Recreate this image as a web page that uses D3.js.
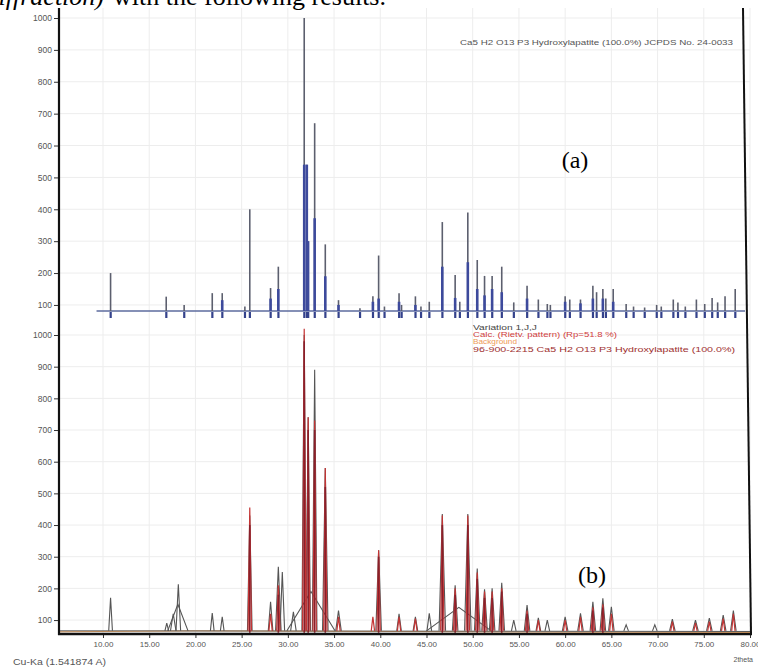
<!DOCTYPE html>
<html><head><meta charset="utf-8">
<script src="https://cdn.jsdelivr.net/npm/d3@7"></script>
<style>body{margin:0;background:#fff}svg{display:block}</style>
</head><body>
<svg id="c" width="758" height="671"></svg>
<script>
// ---------- data ----------
const xTicks = [10,15,20,25,30,35,40,45,50,55,60,65,70,75,80];
const yTicks = [100,200,300,400,500,600,700,800,900,1000];

// (a) reference pattern, JCPDS 24-0033 (stick intensities on panel scale)
const refPos  = [10.82,16.84,18.78,21.82,22.90,25.35,25.88,28.13,28.97,31.77,32.05,32.19,32.90,34.05,35.48,37.80,39.20,39.82,40.45,42.03,42.30,43.80,44.40,45.30,46.71,48.10,48.60,49.47,50.49,51.28,52.10,53.14,54.44,55.88,57.10,58.07,58.40,60.00,60.50,61.66,63.00,63.40,64.08,64.40,65.20,66.60,67.40,68.60,69.90,70.40,71.70,72.20,73.00,74.20,75.10,75.90,76.50,77.30,78.40];
const refInt  = [200,126,100,137,137,95,400,153,220,1000,540,300,670,290,115,90,127,255,95,137,100,127,95,110,360,194,110,390,241,191,191,220,108,160,117,103,100,127,117,117,160,140,150,120,150,103,95,92,100,95,117,108,95,117,103,122,108,127,150];
const refBlue = [0,0,0,0,115,0,0,120,150,540,540,300,372,190,100,0,110,120,0,110,0,100,0,0,220,122,0,234,150,130,150,140,0,120,0,0,0,110,0,105,120,0,120,0,110,0,0,0,0,0,0,0,0,0,0,0,0,0,0];

// (b) observed pattern peaks: position (2theta), counts, half base width (deg)
const obsPos   = [10.82,16.90,17.60,18.10,18.15,21.82,22.90,25.88,28.13,28.97,29.40,30.60,31.77,32.20,32.50,32.90,34.05,35.48,39.82,42.03,43.80,45.30,46.71,48.10,48.50,49.47,50.49,51.28,52.10,53.14,54.44,55.88,57.10,58.07,60.00,61.66,63.00,64.08,65.00,66.60,69.70,71.60,74.10,75.60,77.10,78.20];
const obsInt   = [170,90,120,150,213,122,110,430,158,268,252,126,1000,740,190,890,580,130,320,120,110,121,435,210,140,435,263,197,200,218,100,147,107,100,110,121,158,169,142,85,85,103,100,106,116,130];
const obsWidth = [0.20,0.20,0.30,1.10,0.25,0.20,0.20,0.25,0.25,0.30,0.25,0.30,0.25,0.25,2.60,0.25,0.30,0.30,0.30,0.25,0.25,0.25,0.35,0.30,3.50,0.35,0.30,0.30,0.30,0.30,0.25,0.30,0.25,0.25,0.30,0.30,0.30,0.30,0.30,0.25,0.25,0.30,0.30,0.30,0.30,0.30];

// (b) calculated (Rietveld) pattern peaks
const calcPos = [25.88,28.13,28.97,31.77,32.20,32.90,34.05,35.48,39.20,39.82,42.03,43.80,46.71,48.10,49.47,50.49,51.28,52.10,53.14,55.88,57.10,60.00,61.66,63.00,64.08,65.00,71.60,74.10,75.60,77.10,78.20];
const calcInt = [455,120,210,1020,740,730,580,110,110,320,110,105,430,200,430,250,190,190,200,130,100,100,110,140,150,120,95,90,95,105,120];

// (b) reference sticks 96-900-2215
const stickPos = [25.88,28.97,31.77,32.20,32.90,34.05,39.82,46.71,48.10,49.47,50.49,51.28,52.10,53.14,55.88,63.00,64.08];
const stickInt = [400,180,980,700,700,520,300,400,180,400,230,170,170,190,120,130,140];

// (b) background
const bgPos = [5.3,20,40,60,80];
const bgInt = [63,66,64,62,61];

const legendLines = ["Variation 1,J,J","Calc. (Rietv. pattern) (Rp=51.8 %)","Background","96-900-2215 Ca5 H2 O13 P3 Hydroxylapatite (100.0%)"];

// ---------- drawing ----------
const svg = d3.select("#c");
const FONT = "Liberation Sans, Arial, sans-serif";

const x = d3.scaleLinear().domain([5.24, 80]).range([59, 750]);
const yTop = d3.scaleLinear().domain([81, 1000]).range([311, 18]);
const yBot = d3.scaleLinear().domain([56, 1000]).range([634, 335]);

// cropped text line above the figure
svg.append("text").attr("x", 104).attr("y", 4.5).attr("text-anchor","end")
  .attr("font-family","Liberation Serif, Times New Roman, serif").attr("font-size",26)
  .attr("font-style","italic").text("(X-Ray Diffraction)");
svg.append("text").attr("x", 113).attr("y", 4.5)
  .attr("font-family","Liberation Serif, Times New Roman, serif").attr("font-size",26)
  .text("with the following results.");

// grid
const grid = svg.append("g").attr("stroke","#ededed").attr("stroke-width",1);
xTicks.forEach(t => grid.append("line").attr("x1",x(t)).attr("x2",x(t)).attr("y1",8).attr("y2",634));
yTicks.forEach(t => {
  grid.append("line").attr("x1",59).attr("x2",750).attr("y1",yTop(t)).attr("y2",yTop(t));
  grid.append("line").attr("x1",59).attr("x2",750).attr("y1",yBot(t)).attr("y2",yBot(t));
});

// ----- top panel (a) -----
const topG = svg.append("g");
topG.append("line").attr("x1",x(9.3)).attr("x2",745).attr("y1",yTop(81)).attr("y2",yTop(81))
  .attr("stroke","#5d6b9e").attr("stroke-width",1.3);
topG.selectAll(".mk").data(refPos).join("rect")
  .attr("x", d => x(d)-1).attr("y", yTop(81)+1).attr("width",2.2).attr("height",6)
  .attr("fill","#34428c");
topG.selectAll(".st").data(refPos).join("line")
  .attr("x1", d => x(d)).attr("x2", d => x(d))
  .attr("y1", yTop(81)).attr("y2", (d,i) => yTop(refInt[i]))
  .attr("stroke","#5c5f6e").attr("stroke-width",1.6);
topG.selectAll(".bl").data(refPos.filter((d,i)=>refBlue[i]>0)).join("line")
  .attr("x1", d => x(d)).attr("x2", d => x(d))
  .attr("y1", yTop(81)).attr("y2", d => yTop(refBlue[refPos.indexOf(d)]))
  .attr("stroke","#3d4a9c").attr("stroke-width",2.6);

svg.append("text").attr("x",460).attr("y",44.5).attr("font-family",FONT).attr("font-size",7.5)
  .attr("fill","#555").attr("textLength",273).attr("lengthAdjust","spacingAndGlyphs")
  .text("Ca5 H2 O13 P3 Hydroxylapatite (100.0%) JCPDS No. 24-0033");

// ----- lower panel (b) -----
const botG = svg.append("g");
const lineGen = d3.line().x(d => x(d[0])).y(d => yBot(d[1]));
botG.append("path").attr("d", lineGen(bgPos.map((p,i)=>[p,bgInt[i]])))
  .attr("fill","none").attr("stroke","#f0a45a").attr("stroke-width",1);
botG.append("path").attr("d", lineGen([[5.3,66],[80,64]]))
  .attr("fill","none").attr("stroke","#555").attr("stroke-width",1);
botG.selectAll(".ob").data(obsPos).join("path")
  .attr("d", (p,i) => lineGen([[p-obsWidth[i],66],[p,obsInt[i]],[p+obsWidth[i],66]]))
  .attr("fill","none").attr("stroke","#555").attr("stroke-width",1.1);
botG.selectAll(".ca").data(calcPos).join("path")
  .attr("d", (p,i) => lineGen([[p-0.18,66],[p,calcInt[i]],[p+0.18,66]]))
  .attr("fill","none").attr("stroke","#c43434").attr("stroke-width",1.2);
botG.selectAll(".rs").data(stickPos).join("line")
  .attr("x1", d => x(d)).attr("x2", d => x(d))
  .attr("y1", yBot(60)).attr("y2", (d,i) => yBot(stickInt[i]))
  .attr("stroke","#8a1f2a").attr("stroke-width",1.6);

const legColors = ["#444","#d04040","#ee9a55","#a03030"];
const legWidths = [64,144,44,262];
legendLines.forEach((t,i) => {
  svg.append("text").attr("x",473).attr("y",329.5 + i*7.4).attr("font-family",FONT)
    .attr("font-size",6.5).attr("fill",legColors[i])
    .attr("textLength",legWidths[i]).attr("lengthAdjust","spacingAndGlyphs").text(t);
});

// panel labels
svg.append("text").attr("x",575).attr("y",168).attr("text-anchor","middle")
  .attr("font-family","Liberation Serif, Times New Roman, serif").attr("font-size",24).text("(a)");
svg.append("text").attr("x",592).attr("y",583).attr("text-anchor","middle")
  .attr("font-family","Liberation Serif, Times New Roman, serif").attr("font-size",24).text("(b)");

// ----- axes -----
function styleAxis(g){
  g.select(".domain").remove();
  g.selectAll(".tick line").attr("stroke","#333");
  g.selectAll(".tick text").attr("fill","#555").attr("font-family",FONT);
}
svg.append("g").attr("transform","translate(59,0)")
  .call(d3.axisLeft(yTop).tickValues(yTicks).tickSize(5).tickPadding(2).tickFormat(d3.format("d")))
  .call(styleAxis).attr("font-size",8.5);
svg.append("g").attr("transform","translate(59,0)")
  .call(d3.axisLeft(yBot).tickValues(yTicks).tickSize(5).tickPadding(2).tickFormat(d3.format("d")))
  .call(styleAxis).attr("font-size",8.5);
svg.append("g").attr("transform","translate(0,634)")
  .call(d3.axisBottom(x).tickValues(xTicks).tickSize(4).tickPadding(3).tickFormat(d3.format(".2f")))
  .call(styleAxis).attr("font-size",8);

// frame
svg.append("line").attr("x1",59).attr("x2",59).attr("y1",8).attr("y2",635).attr("stroke","#111").attr("stroke-width",2.2);
svg.append("line").attr("x1",58).attr("x2",752).attr("y1",634).attr("y2",634).attr("stroke","#111").attr("stroke-width",2.5);
svg.append("line").attr("x1",743).attr("x2",751).attr("y1",8).attr("y2",634).attr("stroke","#111").attr("stroke-width",2);

svg.append("text").attr("x",13).attr("y",665).attr("font-family",FONT).attr("font-size",8.5)
  .attr("fill","#555").attr("textLength",93).attr("lengthAdjust","spacingAndGlyphs").text("Cu-Ka (1.541874 A)");
svg.append("text").attr("x",753).attr("y",662).attr("text-anchor","end").attr("font-family",FONT)
  .attr("font-size",7).attr("fill","#555").text("2theta");
</script>
</body></html>
